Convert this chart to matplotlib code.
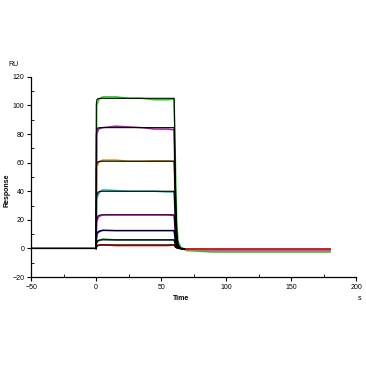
import numpy as np
import matplotlib
matplotlib.use("Agg")
import matplotlib.pyplot as plt

plt.rcParams['font.family'] = ['Liberation Sans', 'DejaVu Sans']

# fitted curves (black), sampled at t_fit
t_fit = [-50, 0, 0.15, 0.6, 1.5, 3, 6, 60, 60.3, 61, 62, 63, 65, 68]
fits = [
    [0, 0, 101, 104, 104.8, 105, 105, 105, 90, 45, 12, 3, 0, -0.5],
    [0, 0, 80, 83.5, 84.3, 84.5, 84.5, 84.5, 72, 36, 10, 2.5, 0, -0.5],
    [0, 0, 56, 59.5, 60.6, 61, 61, 61, 52, 26, 7, 2, 0, -0.5],
    [0, 0, 33, 37.5, 39.3, 40, 40, 40, 34, 17, 5, 1.5, 0, -0.5],
    [0, 0, 16, 20.5, 22.7, 23.4, 23.5, 23.5, 20, 10, 3, 1, 0, -0.5],
    [0, 0, 6.5, 10, 11.8, 12.4, 12.5, 12.5, 10.5, 5.5, 1.5, 0.5, 0, -0.5],
    [0, 0, 2.5, 4.5, 5.6, 5.9, 6, 6, 5, 2.5, 0.8, 0.3, 0, -0.5],
    [0, 0, 0.8, 1.7, 2.3, 2.5, 2.5, 2.5, 2, 1, 0.4, 0.1, 0, -0.5],
]

# measured responses (coloured), sampled at t_obs
t_obs = [0, 0.5, 2, 5, 15, 25, 35, 45, 55, 60, 61, 62, 63, 65, 70, 90, 120, 150, 180]
obs = [
    [0, 100, 104, 106, 106, 105, 105, 104, 104, 104.5, 60, 20, 5, 1, -1.5, -2.5, -2.5, -2.5, -2.5],
    [0, 80, 83.5, 84.5, 85.5, 85, 84.5, 83.5, 83.5, 83, 30, 8, 2, 0, -1, -1.5, -1.5, -1.5, -1.5],
    [0, 57, 60, 61.8, 61.8, 61, 61, 61.3, 61.3, 61, 25, 6, 1.5, 0, -1, -1.5, -1.5, -1.5, -1.5],
    [0, 35, 38.5, 41, 40.5, 40, 40, 40, 39.5, 39.5, 16, 4, 1, 0, -0.5, -1, -1, -1, -1],
    [0, 19, 22, 23.5, 23.5, 23.5, 23.5, 23.5, 23.5, 23, 9, 2.5, 0.5, 0, -0.5, -1, -1, -1, -1],
    [0, 10, 11.5, 12.8, 12.5, 12.5, 12.5, 12.5, 12.5, 12.5, 5, 1.5, 0.5, 0, -0.5, -0.5, -0.5, -0.5, -0.5],
    [0, 4.5, 5.5, 6.5, 6, 6, 6, 6, 6, 6, 2.5, 0.8, 0.2, 0, -0.5, -0.5, -0.5, -0.5, -0.5],
    [0, 1.5, 2.2, 2.5, 2, 2, 2, 2, 2, 2.5, 1, 0.4, 0, 0, -0.5, -0.5, -0.5, -0.5, -0.5],
]
obs_colors = ["#22cc22", "#9b1f9b", "#d4960a", "#1cb8c0", "#ff20ff", "#1010ff", "#0a7a20", "#ee1010"]

fig = plt.figure(figsize=(3.66, 3.66), dpi=100)
ax = fig.add_axes([0.085, 0.243, 0.888, 0.547])

for y, c in zip(obs, obs_colors):
    ax.plot(t_obs, y, color=c, lw=1.1)
for y in fits:
    ax.plot(t_fit, y, color="black", lw=0.8)

ax.set_xlim(-50, 200)
ax.set_ylim(-20, 120)
ax.set_xticks([-50, 0, 50, 100, 150, 200])
ax.set_xticks(np.arange(-25, 200, 50), minor=True)
ax.set_yticks(np.arange(-20, 121, 20))
ax.set_yticks(np.arange(-10, 120, 20), minor=True)
ax.tick_params(which="major", direction="out", length=3, width=0.8, labelsize=5, pad=2)
ax.tick_params(which="minor", direction="in", length=2, width=0.6)
for s in ["top", "right"]:
    ax.spines[s].set_visible(False)
for s in ["left", "bottom"]:
    ax.spines[s].set_linewidth(0.9)

fig.text(13 / 366, 1 - 65 / 366, "RU", fontsize=5, ha="center", va="center")
fig.text(7 / 366, 1 - 190 / 366, "Response", fontsize=5, fontweight="bold",
         rotation=90, ha="center", va="center")
fig.text(181 / 366, 1 - 298 / 366, "Time", fontsize=5, fontweight="bold", ha="center", va="center")
fig.text(360 / 366, 1 - 298 / 366, "s", fontsize=5, ha="center", va="center")

fig.savefig("out.png", dpi=100)
